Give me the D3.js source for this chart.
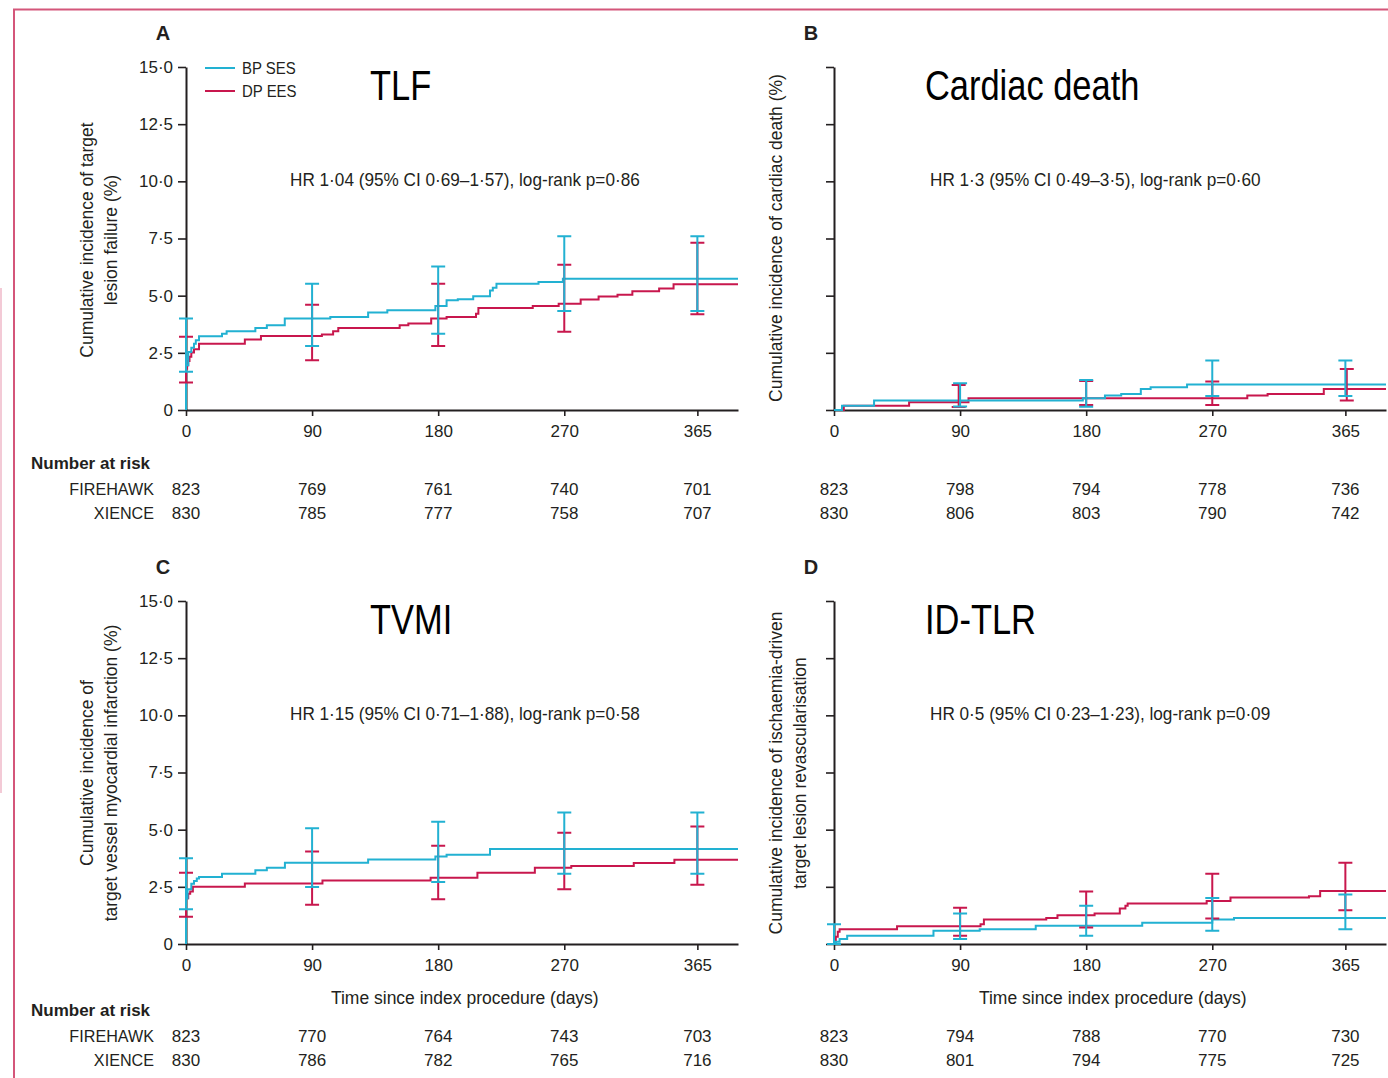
<!DOCTYPE html>
<html>
<head>
<meta charset="utf-8">
<script src="https://cdn.jsdelivr.net/npm/d3@7"></script>
<style>
  body { margin: 0; background: #fff; }
  svg { display: block; }
  .small { font-family: "Liberation Sans Narrow", "Arial Narrow", "Liberation Sans", sans-serif; fill: #231f20; }
  .big { font-family: "Liberation Sans Narrow", "Arial Narrow", "Liberation Sans", sans-serif; fill: #000; }
</style>
</head>
<body>
<div id="chart"></div>
<script>
const blue = "#22b1d2";
const red = "#c8174d";

const xTicks = [0, 90, 180, 270, 365];
const yTicks = [0, 2.5, 5, 7.5, 10, 12.5, 15];
const yTickLabels = ["0", "2·5", "5·0", "7·5", "10·0", "12·5", "15·0"];

const panelLetters = ["A", "B", "C", "D"];
const panelTitles = ["TLF", "Cardiac death", "TVMI", "ID-TLR"];
const hrTexts = [
  "HR 1·04 (95% CI 0·69–1·57), log-rank p=0·86",
  "HR 1·3 (95% CI 0·49–3·5), log-rank p=0·60",
  "HR 1·15 (95% CI 0·71–1·88), log-rank p=0·58",
  "HR 0·5 (95% CI 0·23–1·23), log-rank p=0·09"
];
const yLabels = [
  ["Cumulative incidence of target", "lesion failure (%)"],
  ["Cumulative incidence of cardiac death (%)"],
  ["Cumulative incidence of", "target vessel myocardial infarction (%)"],
  ["Cumulative incidence of ischaemia-driven", "target lesion revascularisation"]
];
const seriesNames = ["BP SES", "DP EES"];
const riskGroups = ["FIREHAWK", "XIENCE"];

// number at risk, per panel: [FIREHAWK, XIENCE]
const riskA = [[823, 769, 761, 740, 701], [830, 785, 777, 758, 707]];
const riskB = [[823, 798, 794, 778, 736], [830, 806, 803, 790, 742]];
const riskC = [[823, 770, 764, 743, 703], [830, 786, 782, 765, 716]];
const riskD = [[823, 794, 788, 770, 730], [830, 801, 794, 775, 725]];

// step curves [day, cumulative incidence %]
const tlfSes = [[0,0],[0,1.96],[1.6,2.54],[3.8,2.72],[5.7,2.9],[7,3.05],[9.3,3.23],[25.7,3.34],[29,3.44],
  [49.5,3.59],[57.7,3.71],[70.5,4.0],[103,4.07],[130,4.26],[143.7,4.36],[178,4.55],[186,4.8],[194,4.84],
  [205,4.97],[217,5.23],[219,5.35],[221.6,5.52],[251.6,5.6],[269,5.74],[394,5.74]];
const tlfEes = [[0,0],[0,1.8],[0.8,1.96],[1.6,2.14],[2.5,2.33],[3.8,2.51],[5.7,2.66],[9.3,2.9],[42,3.08],
  [53.5,3.24],[97,3.3],[105,3.44],[108.7,3.59],[152.5,3.71],[158.7,3.78],[175,4.0],[186,4.07],[207,4.21],
  [208.7,4.46],[247.5,4.55],[266,4.65],[281.7,4.83],[294.5,4.96],[308,5.04],[318.6,5.19],[337.7,5.31],
  [348,5.5],[394,5.5]];
const cdSes = [[0,0],[5.7,0.19],[28.6,0.42],[177.6,0.51],[193.4,0.63],[205,0.7],[219,0.92],[226,0.99],
  [252,1.11],[394,1.11]];
const cdEes = [[0,0],[7,0.19],[53.6,0.34],[96,0.51],[295,0.63],[309.5,0.7],[349.6,0.92],[394,0.92]];
const tvmiSes = [[0,0],[0,1.99],[1.1,2.39],[3.8,2.64],[5.7,2.75],[7.7,2.86],[9.3,2.93],[25.7,3.07],
  [49.5,3.22],[57.7,3.33],[70.6,3.55],[130,3.7],[178,3.83],[186,3.9],[217,4.16],[394,4.16]];
const tvmiEes = [[0,0],[0,2.0],[1.6,2.2],[3,2.3],[4.9,2.5],[42,2.65],[97.4,2.78],[174.6,2.9],[208,3.12],
  [249,3.33],[275,3.41],[319.6,3.54],[348.6,3.68],[394,3.68]];
const tlrSes = [[0,0],[1.3,0.1],[4,0.22],[9.4,0.36],[71,0.58],[104,0.64],[144,0.8],[220,0.93],
  [270,1.07],[285.5,1.14],[394,1.14]];
const tlrEes = [[0,0],[1.3,0.32],[2.7,0.54],[4,0.64],[45,0.78],[104.6,0.86],[107,1.07],[151.5,1.14],
  [159.5,1.26],[186,1.33],[204,1.55],[208,1.67],[209.6,1.77],[266,1.88],[283,2.03],[339,2.09],
  [347,2.32],[394,2.32]];

// 95% CI bars [day, lower, upper]
const tlfSesCI = [[0,1.67,4.0],[90,2.8,5.52],[180,3.34,6.28],[270,4.33,7.6],[365,4.33,7.6]];
const tlfEesCI = [[0,1.2,3.2],[90,2.18,4.6],[180,2.8,5.52],[270,3.42,6.35],[365,4.19,7.31]];
const cdSesCI = [[90,0.15,1.17],[180,0.14,1.31],[270,0.61,2.16],[365,0.61,2.16]];
const cdEesCI = [[89,0.13,1.09],[180,0.22,1.27],[270,0.22,1.25],[366,0.42,1.79]];
const tvmiSesCI = [[0,1.52,3.75],[90,2.49,5.06],[180,2.71,5.35],[270,3.07,5.75],[365,3.07,5.75]];
const tvmiEesCI = [[0,1.19,3.12],[90,1.72,4.04],[180,1.96,4.3],[270,2.39,4.86],[365,2.59,5.14]];
const tlrSesCI = [[0,0,0.86],[90,0.22,1.33],[180,0.36,1.67],[270,0.58,2.01],[365,0.64,2.17]];
const tlrEesCI = [[90,0.36,1.59],[180,0.72,2.3],[270,1.12,3.07],[365,1.48,3.55]];

const panels = [
  { ses: tlfSes, ees: tlfEes, sesCI: tlfSesCI, eesCI: tlfEesCI, risk: riskA, left: 186, top: 67, bottom: 410, tickLabels: true, legend: true },
  { ses: cdSes, ees: cdEes, sesCI: cdSesCI, eesCI: cdEesCI, risk: riskB, left: 834, top: 67, bottom: 410, tickLabels: false },
  { ses: tvmiSes, ees: tvmiEes, sesCI: tvmiSesCI, eesCI: tvmiEesCI, risk: riskC, left: 186, top: 601, bottom: 944, tickLabels: true, xTitle: true },
  { ses: tlrSes, ees: tlrEes, sesCI: tlrSesCI, eesCI: tlrEesCI, risk: riskD, left: 834, top: 601, bottom: 944, tickLabels: false, xTitle: true }
];

const W = 1388, H = 1078;
const svg = d3.select("#chart").append("svg").attr("width", W).attr("height", H);

// squeeze text horizontally (no narrow font installed)
function placeText(g, x, y, sx, rot) {
  return g.append("text")
    .attr("transform", `translate(${x},${y})${rot ? " rotate(-90)" : ""} scale(${sx},1)`);
}

// frame
svg.append("path").attr("d", "M14,1078V9.5H1388").attr("fill", "none").attr("stroke", "#d4567a").attr("stroke-width", 2);
svg.append("line").attr("x1", 1).attr("x2", 1).attr("y1", 288).attr("y2", 793).attr("stroke", "#e795ad").attr("stroke-width", 1);

panels.forEach((p, i) => {
  const x = d3.scaleLinear().domain([0, 394]).range([p.left, p.left + 552]);
  const y = d3.scaleLinear().domain([0, 15]).range([p.bottom, p.top]);
  const g = svg.append("g");

  // y axis
  const yAxis = g.append("g").attr("transform", `translate(${p.left},0)`)
    .call(d3.axisLeft(y).tickValues(yTicks).tickSize(8).tickSizeOuter(0)
      .tickFormat((d, k) => p.tickLabels ? yTickLabels[k] : ""));
  // x axis
  const xAxis = g.append("g").attr("transform", `translate(0,${p.bottom})`)
    .call(d3.axisBottom(x).tickValues(xTicks).tickSize(6).tickSizeOuter(0));
  [yAxis, xAxis].forEach(a => {
    a.select(".domain").attr("stroke", "#231f20").attr("stroke-width", 2);
    a.selectAll(".tick line").attr("stroke", "#231f20").attr("stroke-width", 1.6);
    a.selectAll("text").attr("class", "small").attr("font-size", 17).attr("fill", "#231f20");
  });
  yAxis.selectAll("text").attr("x", -13);
  xAxis.selectAll("text").attr("y", 15);

  const line = d3.line().curve(d3.curveStepAfter).x(d => x(d[0])).y(d => y(d[1]));
  [[p.ees, red], [p.ses, blue]].forEach(([data, c]) => {
    g.append("path").datum(data).attr("d", line).attr("fill", "none")
      .attr("stroke", c).attr("stroke-width", 2);
  });

  // CI bars
  [[p.eesCI, red], [p.sesCI, blue]].forEach(([data, c]) => {
    const bars = g.append("g").attr("stroke", c).attr("stroke-width", 2).attr("fill", "none");
    bars.selectAll("path").data(data).enter().append("path")
      .attr("d", d => {
        const cx = x(d[0]), y0 = y(d[1]), y1 = y(d[2]);
        return `M${cx - 7},${y1}H${cx + 7}M${cx},${y1}V${y0}M${cx - 7},${y0}H${cx + 7}`;
      });
  });

  // panel letter and title
  g.append("text").attr("class", "small").attr("x", p.left - 23).attr("y", p.top - 27)
    .attr("text-anchor", "middle").attr("font-weight", "bold").attr("font-size", 20).text(panelLetters[i]);
  placeText(g, p.left + (i % 2 ? 91 : 184), p.top + 33, 0.82).attr("class", "big")
    .attr("font-size", 42).text(panelTitles[i]);
  placeText(g, p.left + (i % 2 ? 96 : 104), p.top + 119, 0.955).attr("class", "small")
    .attr("font-size", 18).text(hrTexts[i]);

  // y label
  const lab = yLabels[i];
  const lx = i % 2 ? p.left - 52 : p.left - 93;
  const ly = i === 0 ? 240 : i === 1 ? 238 : 773;
  lab.forEach((t, k) => {
    placeText(g, lx + k * 24, ly, 1, true).attr("class", "small").attr("font-size", 17.5)
      .attr("text-anchor", "middle").text(t);
  });

  if (p.xTitle) {
    g.append("text").attr("class", "small").attr("font-size", 17.5)
      .attr("x", x(199)).attr("y", p.bottom + 60).attr("text-anchor", "middle")
      .text("Time since index procedure (days)");
  }

  // number at risk
  const riskTop = p.bottom + (i < 2 ? 59 : 72);
  if (i % 2 === 0) {
    g.append("text").attr("class", "small").attr("font-weight", "bold").attr("font-size", 17)
      .attr("x", 31).attr("y", riskTop).text("Number at risk");
    riskGroups.forEach((r, k) => {
      placeText(g, 154, riskTop + 26 + k * 24, 0.95).attr("class", "small").attr("font-size", 17)
        .attr("text-anchor", "end").text(r);
    });
  }
  p.risk.forEach((row, k) => {
    g.selectAll(null).data(row).enter().append("text").attr("class", "small")
      .attr("font-size", 17).attr("text-anchor", "middle")
      .attr("x", (d, j) => x(xTicks[j])).attr("y", riskTop + 26 + k * 24).text(d => d);
  });

  if (p.legend) {
    [blue, red].forEach((c, k) => {
      g.append("line").attr("x1", 205).attr("x2", 235).attr("y1", 68 + k * 23).attr("y2", 68 + k * 23)
        .attr("stroke", c).attr("stroke-width", 2);
      placeText(g, 242, 74 + k * 23, 0.88).attr("class", "small").attr("font-size", 17)
        .text(seriesNames[k]);
    });
  }
});
</script>
</body>
</html>
